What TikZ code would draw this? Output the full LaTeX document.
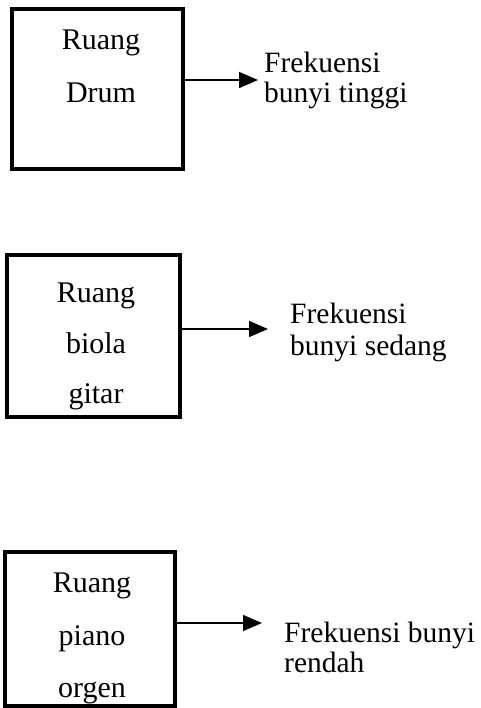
\documentclass[tikz,border=0pt]{standalone}
\usepackage{fontspec}
\setmainfont{Liberation Serif}
\usetikzlibrary{arrows.meta}
\begin{document}
\begin{tikzpicture}[x=1pt,y=-1pt,
  roombox/.style={draw,line width=3.5pt,inner sep=0pt,minimum width=#1},
  txt/.style={inner sep=0pt,font=\fontsize{30}{36}\selectfont},
  lbl/.style={inner sep=0pt,anchor=base west,font=\fontsize{29.5}{35}\selectfont},
  arr/.style={line width=1.6pt,-{Triangle[length=19pt,width=16pt]}}]
\useasboundingbox (0,0) rectangle (480,708);
% box 1
\node[roombox=171pt,minimum height=160pt] (b1) at (97.5,89) {};
\node[txt,anchor=base] (b1l1) at (101,50) {Ruang};
\node[txt,anchor=base] (b1l2) at (101,103) {Drum};
\coordinate (a1e) at (258,80);
\draw[arr] (b1.east |- a1e) -- (a1e);
\node[lbl] (f1l1) at (264,73) {Frekuensi};
\node[lbl] (f1l2) at (264,103) {bunyi tinggi};
% box 2
\node[roombox=173pt,minimum height=162pt] (b2) at (93.5,336) {};
\node[txt,anchor=base] (b2l1) at (96,302) {Ruang};
\node[txt,anchor=base] (b2l2) at (96,353) {biola};
\node[txt,anchor=base] (b2l3) at (96,403) {gitar};
\coordinate (a2e) at (268,329);
\draw[arr] (b2.east |- a2e) -- (a2e);
\node[lbl] (f2l1) at (290,323) {Frekuensi};
\node[lbl] (f2l2) at (290,355) {bunyi sedang};
% box 3
\node[roombox=170pt,minimum height=154pt] (b3) at (90,629) {};
\node[txt,anchor=base] (b3l1) at (92,592) {Ruang};
\node[txt,anchor=base] (b3l2) at (92,645) {piano};
\node[txt,anchor=base] (b3l3) at (92,697) {orgen};
\coordinate (a3e) at (262,623);
\draw[arr] (b3.east |- a3e) -- (a3e);
\node[lbl] (f3l1) at (284,642) {Frekuensi bunyi};
\node[lbl] (f3l2) at (284,672) {rendah};
\end{tikzpicture}
\end{document}
